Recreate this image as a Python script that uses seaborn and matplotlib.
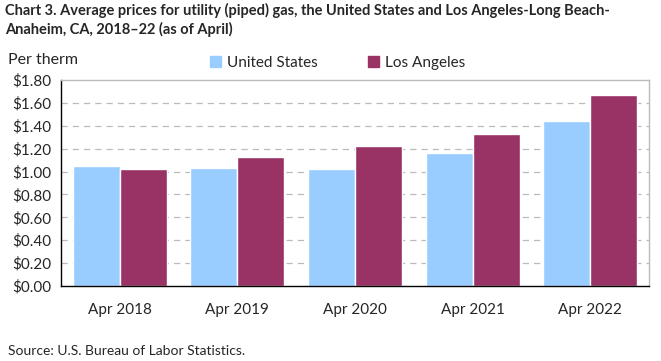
import numpy as np
import pandas as pd
import matplotlib
matplotlib.use('Agg')
import matplotlib.pyplot as plt
import seaborn as sns
from matplotlib.patches import Patch

periods = ['Apr 2018', 'Apr 2019', 'Apr 2020', 'Apr 2021', 'Apr 2022']
us_prices = [1.045, 1.035, 1.025, 1.165, 1.445]
la_prices = [1.025, 1.125, 1.225, 1.33, 1.665]
series_names = ['United States', 'Los Angeles']
yticks = [0.0, 0.2, 0.4, 0.6, 0.8, 1.0, 1.2, 1.4, 1.6, 1.8]

df = pd.DataFrame({
    'period': periods * 2,
    'price': us_prices + la_prices,
    'area': [series_names[0]] * 5 + [series_names[1]] * 5,
})

sns.set_style('white')
plt.rcParams['font.family'] = ['Lato', 'DejaVu Sans']

fig = plt.figure(figsize=(6.61, 3.61), dpi=100)
ax = fig.add_axes([61 / 661, 1 - 286 / 361, 588 / 661, 206 / 361])
sns.barplot(data=df, x='period', y='price', hue='area', order=periods,
            hue_order=series_names, palette=['#99CCFF', '#993366'],
            width=0.8, saturation=1, ax=ax, legend=False)

ax.set_ylim(0, 1.8)
ax.set_xlim(-0.5, 4.5)
ax.set_yticks(yticks)
ax.set_yticklabels(['$%.2f' % v for v in yticks], fontsize=11)
ax.tick_params(axis='x', length=0, labelsize=11, pad=12)
ax.tick_params(axis='y', length=4, width=1, color='black', direction='out', pad=3)
ax.set_xlabel('')
ax.set_ylabel('')
for v in yticks[1:-1]:
    ax.axhline(v, color='#BBBBBB', lw=0.9, ls=(0, (5, 4)), zorder=0)
ax.set_axisbelow(True)
for s in ['top', 'right']:
    ax.spines[s].set_color('#BBBBBB')
    ax.spines[s].set_linewidth(1)
for s in ['left', 'bottom']:
    ax.spines[s].set_color('black')
    ax.spines[s].set_linewidth(1)

handles = [Patch(color='#99CCFF'), Patch(color='#993366')]
fig.legend(handles, series_names, loc='center', bbox_to_anchor=(338 / 661, 1 - 63 / 361),
           ncol=2, frameon=False, fontsize=11, handlelength=0.7, handleheight=0.7,
           handletextpad=0.4, columnspacing=3.3)

fig.text(5 / 661, 1 - 3 / 361,
         'Chart 3. Average prices for utility (piped) gas, the United States and Los Angeles-Long Beach-\nAnaheim, CA, 2018\u201322 (as of April)',
         fontsize=10.5, fontweight='bold', va='top', ha='left', linespacing=1.3)
fig.text(8 / 661, 1 - 60 / 361, 'Per therm', fontsize=11.5, va='center', ha='left')
fig.text(8 / 661, 1 - 351 / 361, 'Source: U.S. Bureau of Labor Statistics.', fontsize=10,
         va='center', ha='left')

fig.savefig('out.png', dpi=100)
